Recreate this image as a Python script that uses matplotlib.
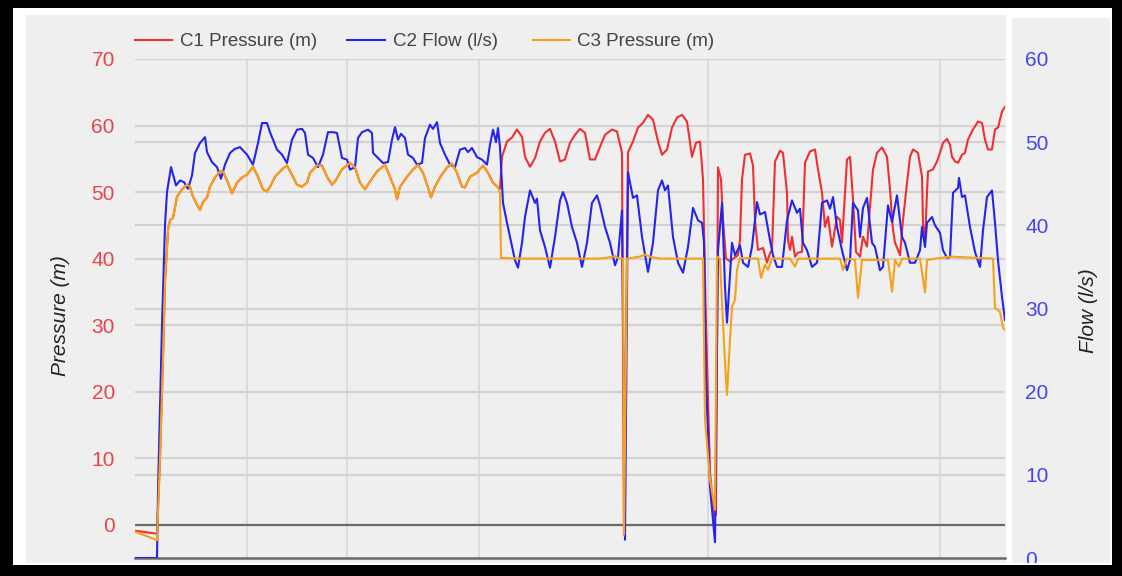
import matplotlib
matplotlib.use('Agg')
import matplotlib.pyplot as plt
from matplotlib.patches import Rectangle
from matplotlib.lines import Line2D

W, H = 1122, 576
plt.rcParams['font.family'] = ['Liberation Sans', 'DejaVu Sans']

# ---------------- data (time index, value) ----------------
# C1 and C3 coincide during the first period
shared_early = [(160, 10), (163, 25), (165, 36.4), (168, 44.3), (170, 45.8), (173, 46.1), (177, 49.3),
                (182, 50.4), (187, 51.1), (190, 50.8), (193, 49.3), (197, 48.1), (200, 47.3), (203, 48.5),
                (207, 49.2), (210, 50.8), (215, 52.2), (220, 53.1), (223, 53.1), (228, 51.4), (232, 49.8),
                (237, 51.4), (242, 52.2), (247, 52.6), (253, 53.8), (258, 52.3), (263, 50.4), (267, 50.1),
                (270, 50.8), (275, 52.3), (282, 53.4), (287, 54.0), (292, 52.6), (297, 51.1), (302, 50.8),
                (307, 51.4), (310, 52.9), (317, 54.0), (322, 54.0), (327, 52.3), (332, 51.1), (335, 51.6),
                (342, 53.4), (350, 54.4), (355, 53.7), (360, 51.4), (365, 50.4), (370, 51.6), (377, 53.1),
                (385, 54.1), (390, 52.3), (395, 50.4), (397, 48.9), (400, 50.8), (407, 52.3), (413, 53.4),
                (418, 54.1), (423, 52.9), (428, 50.7), (431, 49.2), (435, 50.8), (440, 52.2), (447, 53.7),
                (452, 54.3), (457, 52.9), (462, 50.8), (465, 50.7), (470, 52.3), (477, 52.9), (483, 54.0),
                (488, 52.9), (493, 51.4), (498, 50.7)]

c1_start = [(135, -0.9), (157, -1.35)]
c1_late = [(500, 50.5), (502, 55.3), (507, 57.6), (512, 58.2), (517, 59.4), (522, 58.3), (525, 55.3),
           (530, 53.8), (535, 55.1), (540, 57.6), (545, 58.9), (550, 59.5), (555, 57.6), (560, 54.6),
           (565, 54.9), (570, 57.4), (575, 58.6), (580, 59.5), (585, 58.9), (590, 54.9), (595, 54.9),
           (600, 56.8), (605, 58.6), (612, 59.4), (617, 59.1), (622, 55.9), (624, -1.5), (628, 56.0),
           (633, 57.6), (638, 59.7), (643, 60.4), (648, 61.6), (653, 60.9), (658, 57.6), (662, 55.6),
           (667, 56.4), (672, 59.7), (677, 61.2), (682, 61.6), (687, 60.6), (692, 55.3), (696, 57.4),
           (700, 57.6), (703, 51.9), (706, 30.0), (710, 8.0), (714, 1.0), (716, 1.5), (718, 53.7),
           (721, 51.9), (723, 45.8), (726, 40.0), (730, 39.6), (735, 40.2), (738, 40.5), (740, 42.8),
           (742, 51.9), (745, 55.6), (750, 55.8), (753, 54.0), (755, 45.8), (758, 41.3), (763, 41.6),
           (767, 39.4), (770, 40.8), (772, 41.3), (775, 54.6), (780, 56.2), (783, 55.9), (787, 49.9),
           (788, 42.8), (790, 41.3), (792, 43.3), (795, 40.3), (798, 40.9), (802, 41.0), (805, 54.4),
           (810, 56.1), (815, 56.4), (818, 53.4), (822, 49.9), (825, 44.8), (828, 46.3), (832, 41.8),
           (837, 46.3), (840, 45.8), (842, 42.4), (847, 54.9), (850, 55.3), (853, 48.9), (856, 41.0),
           (860, 40.3), (863, 43.3), (867, 41.8), (870, 47.8), (873, 53.4), (877, 55.9), (882, 56.7),
           (887, 55.3), (890, 50.4), (893, 44.3), (895, 42.4), (898, 41.3), (900, 40.5), (903, 45.8),
           (907, 51.4), (910, 55.3), (913, 56.4), (918, 55.9), (922, 52.3), (923, 45.3), (925, 42.4),
           (927, 49.9), (928, 53.1), (933, 53.4), (937, 54.6), (940, 55.9), (943, 57.4), (947, 58.0),
           (950, 57.1), (952, 55.3), (955, 54.6), (958, 54.4), (962, 55.6), (965, 55.9), (968, 57.9),
           (973, 59.4), (978, 60.6), (982, 60.4), (985, 57.9), (988, 56.4), (992, 56.4), (995, 59.4),
           (998, 59.7), (1002, 62.1), (1005, 62.8)]

c3_start = [(135, -1.05), (157, -2.3)]
c3_late = [(500, 49.9), (501, 40.1), (520, 40.0), (560, 40.0), (600, 40.0), (610, 40.2), (615, 40.4),
           (619, 40.0), (623, 40.0), (624, -1.5), (627, 40.0), (640, 40.3), (645, 40.6), (650, 40.3),
           (660, 40.0), (703, 40.0), (705, 15.8), (710, 6.8), (715, 2.25), (717, 40.3), (720, 40.0),
           (722, 33.4), (725, 24.4), (727, 19.5), (730, 27.8), (732, 32.8), (735, 33.8), (737, 38.3),
           (740, 40.1), (758, 40.0), (761, 37.1), (765, 39.1), (768, 38.3), (772, 40.0), (790, 40.0),
           (795, 38.8), (798, 40.0), (840, 40.0), (843, 38.3), (847, 40.0), (855, 39.8), (858, 34.1),
           (862, 39.8), (888, 39.8), (892, 35.0), (895, 39.8), (899, 38.8), (902, 40.0), (920, 40.0),
           (925, 34.9), (927, 39.8), (950, 40.3), (993, 40.0), (995, 32.6), (1000, 32.0), (1003, 29.6),
           (1005, 29.3)]

c2_flow = [(135, 0), (157, 0), (158, 8), (162, 28), (165, 40), (167, 44), (171, 47.0), (176, 44.8),
           (180, 45.4), (184, 45.2), (188, 44.4), (192, 46.0), (195, 48.7), (200, 49.9), (205, 50.6),
           (207, 48.8), (212, 47.6), (217, 47.0), (221, 45.6), (225, 47.3), (230, 48.7), (235, 49.2),
           (240, 49.4), (247, 48.5), (253, 47.3), (258, 49.9), (262, 52.3), (267, 52.3), (270, 51.2),
           (277, 49.1), (282, 48.5), (287, 47.5), (292, 50.3), (297, 51.5), (302, 51.6), (305, 51.1),
           (308, 48.5), (313, 48.1), (318, 47.0), (323, 48.5), (328, 51.2), (333, 51.2), (337, 51.1),
           (342, 48.1), (347, 47.9), (350, 46.7), (355, 47.0), (358, 50.5), (362, 51.2), (368, 51.5),
           (372, 51.1), (373, 48.7), (378, 48.1), (383, 47.5), (388, 47.6), (392, 50.3), (395, 51.8),
           (398, 50.3), (401, 51.0), (405, 50.5), (408, 48.5), (413, 48.1), (417, 47.3), (422, 47.5),
           (425, 50.5), (430, 52.1), (433, 51.6), (437, 52.4), (440, 49.9), (445, 48.5), (450, 47.3),
           (455, 47.0), (460, 49.1), (465, 49.3), (468, 48.8), (472, 49.3), (477, 48.2), (482, 47.9),
           (487, 47.3), (490, 49.7), (493, 51.5), (496, 50.0), (498, 51.7), (500, 49.4), (503, 42.7),
           (507, 40.3), (510, 38.6), (515, 35.8), (518, 34.9), (522, 37.9), (525, 41.0), (530, 44.2),
           (535, 42.7), (537, 43.2), (540, 39.4), (545, 37.4), (550, 34.9), (555, 38.6), (560, 43.0),
           (563, 44.0), (567, 42.7), (572, 39.8), (577, 37.9), (582, 35.0), (587, 37.9), (592, 42.7),
           (597, 43.6), (600, 42.4), (605, 39.8), (610, 37.9), (615, 35.2), (618, 36.2), (622, 41.8),
           (625, 2.2), (628, 46.4), (633, 43.3), (637, 43.6), (642, 38.6), (648, 34.4), (653, 37.9),
           (658, 44.2), (662, 45.4), (665, 44.2), (668, 44.8), (673, 38.6), (678, 35.5), (683, 34.3),
           (688, 37.4), (693, 42.1), (698, 40.6), (702, 40.3), (704, 38.0), (706, 21.4), (710, 8.5),
           (715, 1.9), (718, 37.0), (722, 42.7), (725, 32.6), (727, 28.3), (732, 37.9), (735, 36.4),
           (740, 37.6), (743, 35.5), (748, 35.0), (752, 37.4), (757, 42.8), (760, 41.3), (765, 41.6),
           (770, 38.2), (773, 36.4), (777, 35.0), (782, 35.0), (787, 40.6), (792, 43.0), (797, 41.5),
           (800, 42.0), (803, 37.9), (807, 37.0), (812, 35.0), (817, 35.5), (822, 42.7), (827, 43.0),
           (830, 42.0), (833, 43.4), (837, 39.8), (842, 37.0), (847, 34.6), (850, 35.8), (853, 42.7),
           (858, 41.8), (860, 38.6), (863, 42.1), (867, 43.3), (872, 37.9), (875, 37.4), (880, 34.6),
           (883, 35.0), (888, 42.4), (892, 40.4), (897, 43.6), (902, 38.6), (905, 37.9), (910, 35.5),
           (915, 35.5), (920, 37.0), (922, 39.8), (925, 37.4), (927, 40.3), (932, 41.0), (935, 40.0),
           (940, 39.1), (943, 37.0), (947, 36.1), (950, 36.2), (953, 43.9), (958, 44.5), (959, 45.7),
           (962, 43.4), (965, 43.6), (970, 39.8), (975, 36.8), (980, 35.0), (983, 39.4), (987, 43.4),
           (992, 44.2), (995, 40.3), (998, 35.8), (1002, 31.4), (1005, 28.6)]

pressure_ticks = [0, 10, 20, 30, 40, 50, 60, 70]
flow_ticks = [0, 10, 20, 30, 40, 50, 60]
x_grid = [247, 347, 479, 708, 940]
series_names = ['C1 Pressure (m)', 'C2 Flow (l/s)', 'C3 Pressure (m)']

c1 = c1_start + shared_early + c1_late
c3 = c3_start + shared_early + c3_late

RED = '#f03030'
BLUE = '#2424ee'
ORANGE = '#f7a11a'
PANEL = '#efefef'

# ---------------- figure / frame ----------------
fig = plt.figure(figsize=(W / 100, H / 100), dpi=100, facecolor='black')


def rect(x0, y0, x1, y1, color, z):
    fig.add_artist(Rectangle((x0 / W, 1 - y1 / H), (x1 - x0) / W, (y1 - y0) / H,
                             transform=fig.transFigure, facecolor=color, edgecolor='none', zorder=z))


rect(13, 8, 1112, 565, 'white', -10)
rect(26, 15, 1006, 563, PANEL, -9)
rect(1012, 18, 1110, 563, PANEL, -9)
# bottom cover (clips labels like the panel does)
rect(13, 563, 1112, 565, 'white', 20)
rect(0, 565, W, H, 'black', 21)

ax = fig.add_axes([135 / W, 1 - 558 / H, 870 / W, 499 / H])
ax.set_facecolor('none')
ax2 = ax.twinx()
ax2.patch.set_visible(False)

# gridlines
ax.hlines(pressure_ticks[1:], 135, 1005, colors='#d2d2d2', lw=1.5, zorder=0.5)
ax.hlines(flow_ticks[1:], 135, 1005, colors='#d2d2d2', lw=1.5, zorder=0.5, transform=ax2.transData)
ax.vlines(x_grid, -5, 70, colors='#dadada', lw=1.3, zorder=0.4)
ax.axhline(0, color='#6a6a6a', lw=1.6, zorder=0.6)
ax.axhline(-5, color='#6a6a6a', lw=1.8, zorder=0.6, clip_on=False)

# series
ax.plot([p[0] for p in c1], [p[1] for p in c1], color=RED, lw=1.5, zorder=2)
ax2.plot([p[0] for p in c2_flow], [p[1] for p in c2_flow], color=BLUE, lw=1.5, zorder=2)
ax2.plot([p[0] for p in c3], [p[1] for p in c3], color=ORANGE, lw=1.5, zorder=3,
         transform=ax.transData)

ax.set_xlim(135, 1005)
ax.set_ylim(-5, 70)
ax2.set_ylim(0, 60)
ax.set_xticks([])

ax.set_yticks(pressure_ticks)
ax.set_yticklabels([str(v) for v in pressure_ticks])
ax.tick_params(axis='y', length=0, pad=14.5, labelsize=15, labelcolor='#e8454a')
ax2.set_yticks(flow_ticks)
ax2.set_yticklabels([str(v) for v in flow_ticks])
ax2.tick_params(axis='y', length=0, pad=14.5, labelsize=15, labelcolor='#4646e6')
for a in (ax, ax2):
    for s in a.spines.values():
        s.set_visible(False)

# axis titles
fig.text(60 / W, 1 - 316 / H, 'Pressure (m)', rotation=90, style='italic', fontsize=15,
         ha='center', va='center', color='#222222')
fig.text(1089 / W, 1 - 311 / H, 'Flow (l/s)', rotation=90, style='italic', fontsize=15,
         ha='center', va='center', color='#222222')

# legend
legend_items = [(135, 172, 180, RED), (347, 385, 393, BLUE), (533, 570, 577, ORANGE)]
for (lx0, lx1, tx, col), name in zip(legend_items, series_names):
    fig.add_artist(Line2D([lx0 / W, lx1 / W], [1 - 40 / H, 1 - 40 / H], transform=fig.transFigure,
                          color=col, lw=1.5))
    fig.text(tx / W, 1 - 40 / H, name, fontsize=13.5, ha='left', va='center_baseline', color='#444444')

fig.savefig('out.png', dpi=100, facecolor=fig.get_facecolor())
